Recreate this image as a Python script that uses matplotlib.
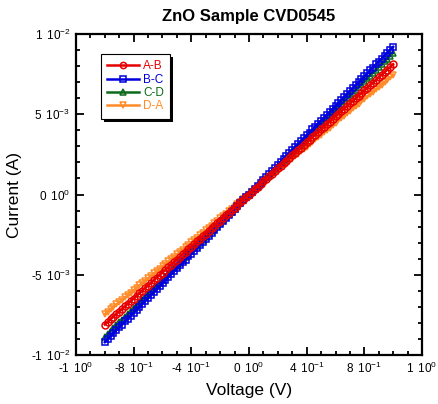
import matplotlib
matplotlib.use("Agg")
import matplotlib.pyplot as plt
from matplotlib.ticker import FixedLocator, MultipleLocator, FixedFormatter
from matplotlib.patches import Rectangle
from matplotlib.transforms import IdentityTransform

plt.rcParams['font.family'] = ['Liberation Sans', 'DejaVu Sans']
plt.rcParams['mathtext.default'] = 'regular'

# Voltage sweep (V)
voltage = [-1.00, -0.98, -0.96, -0.94, -0.92, -0.90, -0.88, -0.86, -0.84, -0.82,
           -0.80, -0.78, -0.76, -0.74, -0.72, -0.70, -0.68, -0.66, -0.64, -0.62,
           -0.60, -0.58, -0.56, -0.54, -0.52, -0.50, -0.48, -0.46, -0.44, -0.42,
           -0.40, -0.38, -0.36, -0.34, -0.32, -0.30, -0.28, -0.26, -0.24, -0.22,
           -0.20, -0.18, -0.16, -0.14, -0.12, -0.10, -0.08, -0.06, -0.04, -0.02,
           0.00,
           0.02, 0.04, 0.06, 0.08, 0.10, 0.12, 0.14, 0.16, 0.18, 0.20,
           0.22, 0.24, 0.26, 0.28, 0.30, 0.32, 0.34, 0.36, 0.38, 0.40,
           0.42, 0.44, 0.46, 0.48, 0.50, 0.52, 0.54, 0.56, 0.58, 0.60,
           0.62, 0.64, 0.66, 0.68, 0.70, 0.72, 0.74, 0.76, 0.78, 0.80,
           0.82, 0.84, 0.86, 0.88, 0.90, 0.92, 0.94, 0.96, 0.98, 1.00]

# Currents in mA
i_ab = [-8.10, -7.94, -7.78, -7.61, -7.45, -7.29, -7.13, -6.97, -6.80, -6.64,
        -6.48, -6.32, -6.16, -5.99, -5.83, -5.67, -5.51, -5.35, -5.18, -5.02,
        -4.86, -4.70, -4.54, -4.37, -4.21, -4.05, -3.89, -3.73, -3.56, -3.40,
        -3.24, -3.08, -2.92, -2.75, -2.59, -2.43, -2.27, -2.11, -1.94, -1.78,
        -1.62, -1.46, -1.30, -1.13, -0.97, -0.81, -0.65, -0.49, -0.32, -0.16,
        0.00,
        0.16, 0.32, 0.49, 0.65, 0.81, 0.97, 1.13, 1.30, 1.46, 1.62,
        1.78, 1.94, 2.11, 2.27, 2.43, 2.59, 2.75, 2.92, 3.08, 3.24,
        3.40, 3.56, 3.73, 3.89, 4.05, 4.21, 4.37, 4.54, 4.70, 4.86,
        5.02, 5.18, 5.35, 5.51, 5.67, 5.83, 5.99, 6.16, 6.32, 6.48,
        6.64, 6.80, 6.97, 7.13, 7.29, 7.45, 7.61, 7.78, 7.94, 8.12]
i_bc = [-9.20, -9.02, -8.83, -8.65, -8.46, -8.28, -8.10, -7.91, -7.73, -7.54,
        -7.36, -7.18, -6.99, -6.81, -6.62, -6.44, -6.26, -6.07, -5.89, -5.70,
        -5.52, -5.34, -5.15, -4.97, -4.78, -4.60, -4.42, -4.23, -4.05, -3.86,
        -3.68, -3.50, -3.31, -3.13, -2.94, -2.76, -2.58, -2.39, -2.21, -2.02,
        -1.84, -1.66, -1.47, -1.29, -1.10, -0.92, -0.74, -0.55, -0.37, -0.18,
        0.00,
        0.18, 0.37, 0.55, 0.74, 0.92, 1.10, 1.29, 1.47, 1.66, 1.84,
        2.02, 2.21, 2.39, 2.58, 2.76, 2.94, 3.13, 3.31, 3.50, 3.68,
        3.86, 4.05, 4.23, 4.42, 4.60, 4.78, 4.97, 5.15, 5.34, 5.52,
        5.70, 5.89, 6.07, 6.26, 6.44, 6.62, 6.81, 6.99, 7.18, 7.36,
        7.54, 7.73, 7.91, 8.10, 8.28, 8.46, 8.65, 8.83, 9.02, 9.20]
i_cd = [-8.85, -8.67, -8.50, -8.32, -8.14, -7.97, -7.79, -7.61, -7.43, -7.26,
        -7.08, -6.90, -6.73, -6.55, -6.37, -6.20, -6.02, -5.84, -5.66, -5.49,
        -5.31, -5.13, -4.96, -4.78, -4.60, -4.43, -4.25, -4.07, -3.89, -3.72,
        -3.54, -3.36, -3.19, -3.01, -2.83, -2.66, -2.48, -2.30, -2.12, -1.95,
        -1.77, -1.59, -1.42, -1.24, -1.06, -0.89, -0.71, -0.53, -0.35, -0.18,
        0.00,
        0.18, 0.35, 0.53, 0.71, 0.88, 1.06, 1.24, 1.41, 1.59, 1.76,
        1.94, 2.12, 2.29, 2.47, 2.65, 2.82, 3.00, 3.17, 3.35, 3.53,
        3.70, 3.88, 4.06, 4.23, 4.41, 4.59, 4.76, 4.94, 5.11, 5.29,
        5.47, 5.64, 5.82, 6.00, 6.17, 6.35, 6.53, 6.70, 6.88, 7.05,
        7.23, 7.41, 7.58, 7.76, 7.94, 8.11, 8.29, 8.47, 8.64, 8.82]
i_da = [-7.45, -7.30, -7.15, -7.00, -6.85, -6.71, -6.56, -6.41, -6.26, -6.11,
        -5.96, -5.81, -5.66, -5.51, -5.36, -5.22, -5.07, -4.92, -4.77, -4.62,
        -4.47, -4.32, -4.17, -4.02, -3.87, -3.73, -3.58, -3.43, -3.28, -3.13,
        -2.98, -2.83, -2.68, -2.53, -2.38, -2.24, -2.09, -1.94, -1.79, -1.64,
        -1.49, -1.34, -1.19, -1.04, -0.89, -0.75, -0.60, -0.45, -0.30, -0.15,
        0.00,
        0.15, 0.30, 0.45, 0.60, 0.75, 0.89, 1.04, 1.19, 1.34, 1.49,
        1.64, 1.79, 1.94, 2.09, 2.24, 2.38, 2.53, 2.68, 2.83, 2.98,
        3.13, 3.28, 3.43, 3.58, 3.73, 3.87, 4.02, 4.17, 4.32, 4.47,
        4.62, 4.77, 4.92, 5.07, 5.22, 5.36, 5.51, 5.66, 5.81, 5.96,
        6.11, 6.26, 6.41, 6.56, 6.71, 6.85, 7.00, 7.15, 7.30, 7.45]

series_names = ['A-B', 'B-C', 'C-D', 'D-A']
series_data = [i_ab, i_bc, i_cd, i_da]
colors = ['#e60000', '#0000dd', '#0a6a1a', '#ff8c28']
markers = ['o', 's', '^', 'v']

SP = ' $\\,$'
xtick_vals = [-1.2, -0.8, -0.4, 0.0, 0.4, 0.8, 1.2]
xtick_labels = ['-1' + SP + '10$^{0}$', '-8' + SP + '10$^{-1}$', '-4' + SP + '10$^{-1}$',
                '0' + SP + '10$^{0}$', '4' + SP + '10$^{-1}$', '8' + SP + '10$^{-1}$',
                '1' + SP + '10$^{0}$']
ytick_vals = [-0.01, -0.005, 0.0, 0.005, 0.01]
ytick_labels = ['-1' + SP + '10$^{-2}$', '-5' + SP + '10$^{-3}$', '0' + SP + '10$^{0}$',
                '5' + SP + '10$^{-3}$', '1' + SP + '10$^{-2}$']

fig = plt.figure(figsize=(4.38, 4.04), dpi=100)
ax = fig.add_axes([76/438, 1-355/404, (422-76)/438, (355-34)/404])

handles = {}
draw_order = [3, 2, 1, 0]
for idx in draw_order:
    c = colors[idx]
    h, = ax.plot(voltage, [d * 1e-3 for d in series_data[idx]], color=c, lw=1.8,
                 marker=markers[idx], markersize=5, markerfacecolor='none',
                 markeredgecolor=c, markeredgewidth=1.1, label=series_names[idx])
    handles[idx] = h

ax.set_xlim(-1.2, 1.2)
ax.set_ylim(-0.01, 0.01)
ax.xaxis.set_major_locator(FixedLocator(xtick_vals))
ax.xaxis.set_major_formatter(FixedFormatter(xtick_labels))
ax.xaxis.set_minor_locator(MultipleLocator(0.1))
ax.yaxis.set_major_locator(FixedLocator(ytick_vals))
ax.yaxis.set_major_formatter(FixedFormatter(ytick_labels))
ax.yaxis.set_minor_locator(MultipleLocator(0.001))
ax.tick_params(which='both', direction='in', top=True, right=True, width=1.3, labelsize=8.5)
ax.tick_params(which='major', length=6)
ax.tick_params(axis='x', which='major', pad=4)
ax.tick_params(axis='y', which='major', pad=4)
ax.tick_params(which='minor', length=3)
for s in ax.spines.values():
    s.set_linewidth(1.6)

ax.set_title('ZnO Sample CVD0545', fontsize=12, fontweight='bold', pad=9)
ax.set_xlabel('Voltage (V)', fontsize=12.5, labelpad=5)
ax.set_ylabel('Current (A)', fontsize=12.5, labelpad=6)

leg = ax.legend([handles[i] for i in range(4)], series_names,
                loc='upper left', bbox_to_anchor=(25/346, (355-54)/321), borderaxespad=0,
                fontsize=8.5, frameon=True, fancybox=False, shadow=False,
                edgecolor='black', framealpha=1, handlelength=2.7, handletextpad=0.3,
                labelspacing=0.1, borderpad=0.55, numpoints=1, markerscale=0.9)
leg.get_frame().set_linewidth(0.8)
for txt, c in zip(leg.get_texts(), colors):
    txt.set_color(c)

fig.canvas.draw()
bb = leg.get_window_extent()
shadow = Rectangle((bb.x0 + 3, bb.y0 - 3), bb.width, bb.height, transform=IdentityTransform(),
                   facecolor='black', edgecolor='none', zorder=leg.get_zorder() - 0.5,
                   clip_on=False)
ax.add_artist(shadow)

fig.savefig('out.png', dpi=100)
